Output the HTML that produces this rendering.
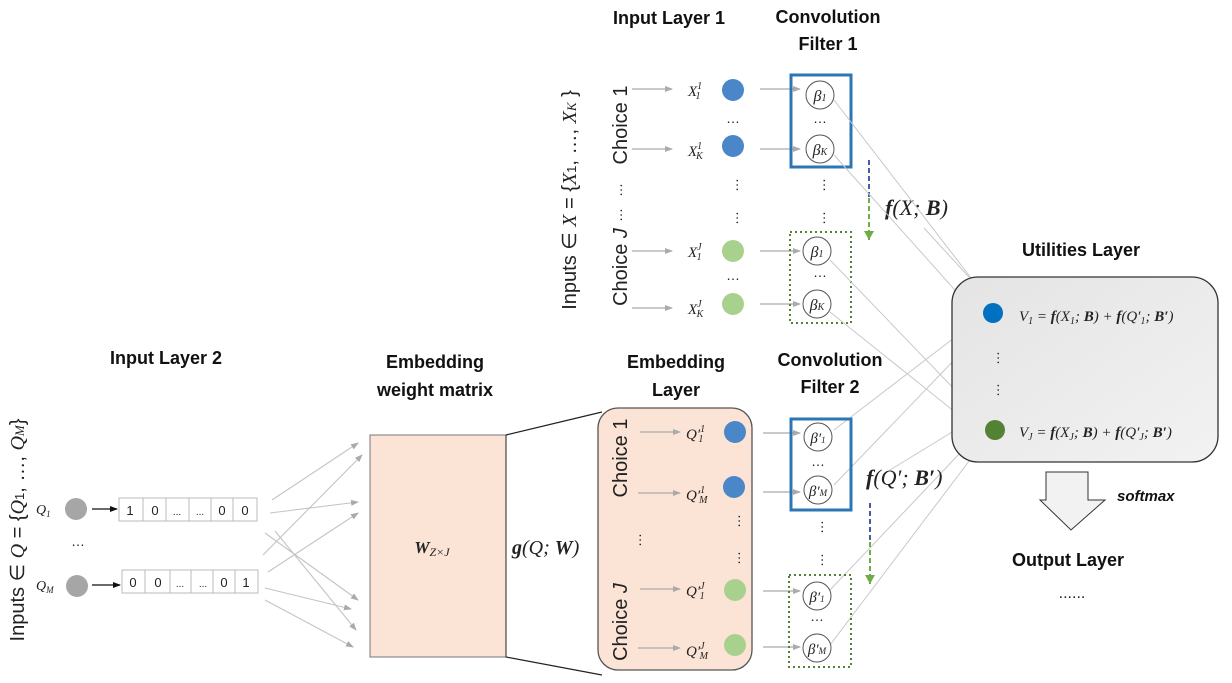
<!DOCTYPE html>
<html><head><meta charset="utf-8"><style>
body{margin:0;background:#fff}
svg{display:block}
.b{font-family:"Liberation Sans",sans-serif;font-weight:bold;font-size:18px;fill:#111}
.m{font-family:"Liberation Serif",serif;font-style:italic;fill:#222}
.s{font-family:"Liberation Sans",sans-serif;fill:#222}
</style></head><body>
<svg width="1232" height="683" viewBox="0 0 1232 683" xmlns="http://www.w3.org/2000/svg">
<defs>
<marker id="ag" markerWidth="8" markerHeight="8" refX="7" refY="4" orient="auto" markerUnits="userSpaceOnUse"><path d="M0,1 L8,4 L0,7z" fill="#aaa"/></marker>
<marker id="ak" markerWidth="8" markerHeight="8" refX="7" refY="4" orient="auto" markerUnits="userSpaceOnUse"><path d="M0,1 L8,4 L0,7z" fill="#111"/></marker>
<marker id="agr" markerWidth="10" markerHeight="10" refX="9" refY="5" orient="auto" markerUnits="userSpaceOnUse"><path d="M0,0 L9,5 L0,10z" fill="#70ad47"/></marker>
<linearGradient id="ug" x1="0" y1="0" x2="1" y2="1"><stop offset="0" stop-color="#e4e4e4"/><stop offset="1" stop-color="#f2f2f2"/></linearGradient>
</defs>

<text class="b" x="669" y="24" text-anchor="middle">Input Layer 1</text>
<text class="b" x="828" y="23" text-anchor="middle">Convolution</text>
<text class="b" x="828" y="50" text-anchor="middle">Filter 1</text>
<text class="b" x="166" y="364" text-anchor="middle">Input Layer 2</text>
<text class="b" x="435" y="368" text-anchor="middle">Embedding</text>
<text class="b" x="435" y="396" text-anchor="middle">weight matrix</text>
<text class="b" x="676" y="368" text-anchor="middle">Embedding</text>
<text class="b" x="676" y="396" text-anchor="middle">Layer</text>
<text class="b" x="830" y="366" text-anchor="middle">Convolution</text>
<text class="b" x="830" y="393" text-anchor="middle">Filter 2</text>
<text class="b" x="1081" y="256" text-anchor="middle">Utilities Layer</text>
<text class="b" x="1068" y="566" text-anchor="middle">Output Layer</text>
<text class="s" x="1072" y="598" text-anchor="middle" font-size="16">......</text>

<text class="s" font-size="20" transform="translate(576,200) rotate(-90)" text-anchor="middle">Inputs ∈ <tspan font-style="italic" font-family="Liberation Serif">X</tspan> = {<tspan font-style="italic" font-family="Liberation Serif">X</tspan><tspan font-size="13">1</tspan>, …, <tspan font-style="italic" font-family="Liberation Serif">X<tspan font-size="13">K</tspan></tspan> }</text>
<text class="s" font-size="20" transform="translate(24,530) rotate(-90)" text-anchor="middle">Inputs ∈ <tspan font-style="italic" font-family="Liberation Serif">Q</tspan> = {<tspan font-style="italic" font-family="Liberation Serif">Q</tspan><tspan font-size="13">1</tspan>, …, <tspan font-style="italic" font-family="Liberation Serif">Q<tspan font-size="13">M</tspan></tspan>}</text>
<text class="s" font-size="20" transform="translate(627,125) rotate(-90)" text-anchor="middle">Choice 1</text>
<text class="s" font-size="20" transform="translate(627,267) rotate(-90)" text-anchor="middle">Choice <tspan font-style="italic">J</tspan></text>
<text class="s" font-size="14" transform="translate(622,190) rotate(-90)" text-anchor="middle">…</text>
<text class="s" font-size="14" transform="translate(622,215) rotate(-90)" text-anchor="middle">…</text>

<g stroke="#aaa" stroke-width="1.2" marker-end="url(#ag)">
<line x1="632" y1="89" x2="672" y2="89"/><line x1="632" y1="149" x2="672" y2="149"/>
<line x1="632" y1="251" x2="672" y2="251"/><line x1="632" y1="308" x2="672" y2="308"/>
<line x1="760" y1="89" x2="800" y2="89"/><line x1="760" y1="149" x2="800" y2="149"/>
<line x1="760" y1="251" x2="800" y2="251"/><line x1="760" y1="304" x2="800" y2="304"/>
</g>
<g class="m" font-size="15">
<text x="688" y="96">X<tspan font-size="10" dy="-7">1</tspan><tspan font-size="10" dx="-6" dy="10">1</tspan></text>
<text x="688" y="156">X<tspan font-size="10" dy="-7">1</tspan><tspan font-size="10" dx="-6" dy="10">K</tspan></text>
<text x="688" y="257">X<tspan font-size="10" dy="-7">J</tspan><tspan font-size="10" dx="-5" dy="10">1</tspan></text>
<text x="688" y="314">X<tspan font-size="10" dy="-7">J</tspan><tspan font-size="10" dx="-5" dy="10">K</tspan></text>
</g>
<circle cx="733" cy="90" r="11" fill="#4a86c8"/><circle cx="733" cy="146" r="11" fill="#4a86c8"/>
<circle cx="733" cy="251" r="11" fill="#a9d18e"/><circle cx="733" cy="304" r="11" fill="#a9d18e"/>
<g class="s" font-size="14" text-anchor="middle">
<text x="733" y="123">…</text><text x="733" y="280">…</text>
<text x="820" y="123">…</text><text x="820" y="277">…</text>
</g>
<g class="s" font-size="14" text-anchor="middle">
<text transform="translate(738,185) rotate(-90)">…</text><text transform="translate(738,218) rotate(-90)">…</text>
<text transform="translate(825,185) rotate(-90)">…</text><text transform="translate(825,218) rotate(-90)">…</text>
</g>
<rect x="791" y="75" width="60" height="92" fill="none" stroke="#2e75b6" stroke-width="3"/>
<rect x="790" y="232" width="61" height="91" fill="none" stroke="#548235" stroke-width="2" stroke-dasharray="2,3"/>
<g fill="#fff" stroke="#555" stroke-width="1">
<circle cx="820" cy="95" r="14"/><circle cx="820" cy="149" r="14"/>
<circle cx="817" cy="251" r="14"/><circle cx="817" cy="304" r="14"/>
</g>
<g class="m" font-size="16" text-anchor="middle">
<text x="820" y="101">β<tspan font-size="10">1</tspan></text><text x="820" y="155">β<tspan font-size="10">K</tspan></text>
<text x="817" y="257">β<tspan font-size="10">1</tspan></text><text x="817" y="310">β<tspan font-size="10">K</tspan></text>
</g>
<line x1="869" y1="160" x2="869" y2="198" stroke="#4a5aa8" stroke-width="2" stroke-dasharray="5,3"/>
<line x1="869" y1="198" x2="869" y2="240" stroke="#70ad47" stroke-width="2" stroke-dasharray="5,3" marker-end="url(#agr)"/>
<text class="m" x="885" y="215" font-size="22"><tspan font-weight="bold">f</tspan>(X; <tspan font-weight="bold">B</tspan>)</text>

<g stroke="#c8c8c8" stroke-width="1" marker-end="url(#ag)">
<line x1="834" y1="100" x2="988" y2="300"/>
<line x1="834" y1="155" x2="980" y2="318"/>
<line x1="924" y1="228" x2="990" y2="300"/>
<line x1="830" y1="260" x2="984" y2="420"/>
<line x1="830" y1="312" x2="975" y2="428"/>
<line x1="834" y1="430" x2="980" y2="318"/>
<line x1="834" y1="485" x2="985" y2="328"/>
<line x1="830" y1="590" x2="980" y2="432"/>
<line x1="830" y1="645" x2="985" y2="440"/>
<line x1="890" y1="470" x2="975" y2="418"/>
</g>

<rect x="952" y="277" width="266" height="185" rx="26" fill="url(#ug)" stroke="#333" stroke-width="1.3"/>
<circle cx="993" cy="313" r="10" fill="#0070c0"/>
<circle cx="995" cy="430" r="10" fill="#548235"/>
<g class="s" font-size="14" text-anchor="middle">
<text transform="translate(999,358) rotate(-90)">…</text><text transform="translate(999,390) rotate(-90)">…</text>
</g>
<text class="m" x="1019" y="321" font-size="15">V<tspan font-size="10" dy="3">1</tspan><tspan dy="-3"> = </tspan><tspan font-weight="bold">f</tspan>(X<tspan font-size="10" dy="3">1</tspan><tspan dy="-3">; </tspan><tspan font-weight="bold">B</tspan>) + <tspan font-weight="bold">f</tspan>(Q′<tspan font-size="10" dy="3">1</tspan><tspan dy="-3">; </tspan><tspan font-weight="bold">B′</tspan>)</text>
<text class="m" x="1019" y="437" font-size="15">V<tspan font-size="10" dy="3">J</tspan><tspan dy="-3"> = </tspan><tspan font-weight="bold">f</tspan>(X<tspan font-size="10" dy="3">J</tspan><tspan dy="-3">; </tspan><tspan font-weight="bold">B</tspan>) + <tspan font-weight="bold">f</tspan>(Q′<tspan font-size="10" dy="3">J</tspan><tspan dy="-3">; </tspan><tspan font-weight="bold">B′</tspan>)</text>
<path d="M1046,472 L1088,472 L1088,500 L1105,500 L1071,530 L1040,500 L1046,500 Z" fill="#f2f2f2" stroke="#333" stroke-width="1"/>
<text x="1117" y="501" font-family="Liberation Sans,sans-serif" font-style="italic" font-weight="bold" font-size="15" fill="#111">softmax</text>

<text class="m" x="36" y="514" font-size="14">Q<tspan font-size="9" dy="3">1</tspan></text>
<text class="m" x="36" y="590" font-size="14">Q<tspan font-size="9" dy="3">M</tspan></text>
<circle cx="76" cy="509" r="11" fill="#a6a6a6"/><circle cx="77" cy="586" r="11" fill="#a6a6a6"/>
<text class="s" x="78" y="546" font-size="14" text-anchor="middle">…</text>
<line x1="92" y1="509" x2="117" y2="509" stroke="#111" stroke-width="1.3" marker-end="url(#ak)"/>
<line x1="92" y1="585" x2="120" y2="585" stroke="#111" stroke-width="1.3" marker-end="url(#ak)"/>
<g fill="#fff" stroke="#bbb" stroke-width="1">
<rect x="119" y="498" width="138" height="23"/><rect x="122" y="570" width="136" height="23"/>
</g>
<g stroke="#bbb"><line x1="143" y1="498" x2="143" y2="521"/><line x1="166" y1="498" x2="166" y2="521"/><line x1="189" y1="498" x2="189" y2="521"/><line x1="211" y1="498" x2="211" y2="521"/><line x1="233" y1="498" x2="233" y2="521"/>
<line x1="145" y1="570" x2="145" y2="593"/><line x1="170" y1="570" x2="170" y2="593"/><line x1="191" y1="570" x2="191" y2="593"/><line x1="213" y1="570" x2="213" y2="593"/><line x1="235" y1="570" x2="235" y2="593"/></g>
<g class="s" font-size="13" text-anchor="middle">
<text x="130" y="515">1</text><text x="155" y="515">0</text><text x="177" y="515" font-size="10">...</text><text x="200" y="515" font-size="10">...</text><text x="222" y="515">0</text><text x="245" y="515">0</text>
<text x="133" y="587">0</text><text x="158" y="587">0</text><text x="180" y="587" font-size="10">...</text><text x="203" y="587" font-size="10">...</text><text x="224" y="587">0</text><text x="246" y="587">1</text>
</g>
<g stroke="#c4c4c4" stroke-width="1.1" marker-end="url(#ag)">
<line x1="272" y1="500" x2="358" y2="443"/><line x1="270" y1="513" x2="358" y2="502"/>
<line x1="265" y1="533" x2="358" y2="600"/><line x1="275" y1="531" x2="356" y2="630"/>
<line x1="263" y1="555" x2="362" y2="455"/><line x1="268" y1="572" x2="358" y2="513"/>
<line x1="265" y1="588" x2="351" y2="609"/><line x1="265" y1="600" x2="353" y2="647"/>
</g>

<rect x="370" y="435" width="136" height="222" fill="#fbe3d5" stroke="#777" stroke-width="1"/>
<text class="m" x="432" y="553" font-size="17" text-anchor="middle"><tspan font-weight="bold">W</tspan><tspan font-size="12" dy="3">Z×J</tspan></text>
<line x1="506" y1="435" x2="602" y2="412" stroke="#222" stroke-width="1.2"/>
<line x1="506" y1="657" x2="602" y2="675" stroke="#222" stroke-width="1.2"/>
<line x1="506" y1="435" x2="506" y2="657" stroke="#222" stroke-width="1"/>
<text class="m" x="512" y="554" font-size="20"><tspan font-weight="bold">g</tspan>(Q; <tspan font-weight="bold">W</tspan>)</text>

<rect x="598" y="408" width="154" height="262" rx="20" fill="#fbe3d5" stroke="#555" stroke-width="1.3"/>
<text class="s" font-size="20" transform="translate(627,458) rotate(-90)" text-anchor="middle">Choice 1</text>
<text class="s" font-size="20" transform="translate(627,622) rotate(-90)" text-anchor="middle">Choice <tspan font-style="italic">J</tspan></text>
<text class="s" font-size="14" transform="translate(641,540) rotate(-90)" text-anchor="middle">…</text>
<g stroke="#aaa" stroke-width="1.2" marker-end="url(#ag)">
<line x1="640" y1="432" x2="680" y2="432"/><line x1="638" y1="493" x2="680" y2="493"/>
<line x1="640" y1="589" x2="680" y2="589"/><line x1="638" y1="648" x2="680" y2="648"/>
<line x1="763" y1="433" x2="800" y2="433"/><line x1="763" y1="492" x2="800" y2="492"/>
<line x1="763" y1="591" x2="800" y2="591"/><line x1="763" y1="647" x2="800" y2="647"/>
</g>
<g class="m" font-size="15">
<text x="686" y="439">Q′<tspan font-size="10" dy="-7">1</tspan><tspan font-size="10" dx="-6" dy="10">1</tspan></text>
<text x="686" y="500">Q′<tspan font-size="10" dy="-7">1</tspan><tspan font-size="10" dx="-6" dy="10">M</tspan></text>
<text x="686" y="596">Q′<tspan font-size="10" dy="-7">J</tspan><tspan font-size="10" dx="-5" dy="10">1</tspan></text>
<text x="686" y="656">Q′<tspan font-size="10" dy="-7">J</tspan><tspan font-size="10" dx="-5" dy="10">M</tspan></text>
</g>
<circle cx="735" cy="432" r="11" fill="#4a86c8"/><circle cx="734" cy="487" r="11" fill="#4a86c8"/>
<circle cx="735" cy="590" r="11" fill="#a9d18e"/><circle cx="735" cy="645" r="11" fill="#a9d18e"/>
<g class="s" font-size="14" text-anchor="middle">
<text transform="translate(740,521) rotate(-90)">…</text><text transform="translate(740,558) rotate(-90)">…</text>
<text transform="translate(823,527) rotate(-90)">…</text><text transform="translate(823,560) rotate(-90)">…</text>
<text x="818" y="466">…</text><text x="817" y="621">…</text>
</g>
<rect x="791" y="419" width="60" height="91" fill="none" stroke="#2e75b6" stroke-width="3"/>
<rect x="789" y="575" width="62" height="92" fill="none" stroke="#548235" stroke-width="2" stroke-dasharray="2,3"/>
<g fill="#fff" stroke="#555" stroke-width="1">
<circle cx="818" cy="437" r="14"/><circle cx="818" cy="490" r="14"/>
<circle cx="817" cy="596" r="14"/><circle cx="817" cy="648" r="14"/>
</g>
<g class="m" font-size="15" text-anchor="middle">
<text x="818" y="443">β′<tspan font-size="9">1</tspan></text><text x="818" y="496">β′<tspan font-size="9">M</tspan></text>
<text x="817" y="602">β′<tspan font-size="9">1</tspan></text><text x="817" y="654">β′<tspan font-size="9">M</tspan></text>
</g>
<line x1="870" y1="503" x2="870" y2="542" stroke="#4a5aa8" stroke-width="2" stroke-dasharray="5,3"/>
<line x1="870" y1="542" x2="870" y2="584" stroke="#70ad47" stroke-width="2" stroke-dasharray="5,3" marker-end="url(#agr)"/>
<text class="m" x="866" y="485" font-size="22"><tspan font-weight="bold">f</tspan>(Q′; <tspan font-weight="bold">B′</tspan>)</text>
</svg>
</body></html>
